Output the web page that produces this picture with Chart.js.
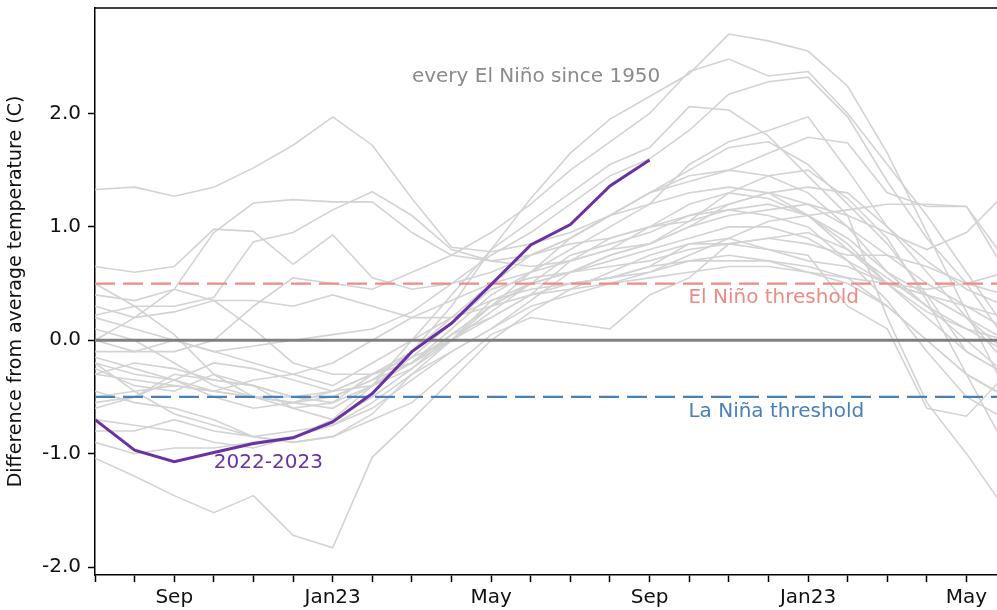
<!DOCTYPE html>
<html>
<head>
<meta charset="utf-8">
<script src="https://cdn.jsdelivr.net/npm/chart.js@4"></script>
<style>
  html, body { margin: 0; padding: 0; background: #fff; }
  #wrap { width: 997px; height: 610px; }
</style>
</head>
<body>
<div id="wrap"><canvas id="ninoChart" width="997" height="610"></canvas></div>
<script>
// months from Jul of the year before the event (index 0) onward
const tickIdx = [2, 6, 10, 14, 18, 22];
const tickNames = ['Sep', 'Jan23', 'May', 'Sep', 'Jan23', 'May'];
const yTicks = [-2, -1, 0, 1, 2];

// 2022-2023 (Jul 2022 .. Sep 2023)
const run2022 = [-0.70, -0.97, -1.07, -0.99, -0.91, -0.86, -0.72, -0.47, -0.10, 0.15, 0.49, 0.84, 1.02, 1.36, 1.59];

// every El Nino since 1950, Jul (year before) .. Jun (year after)
const g1  = [-0.30, -0.20, -0.25, -0.35, -0.40, -0.50, -0.50, -0.35, -0.10, 0.30, 0.80, 1.25, 1.65, 1.95, 2.15, 2.35, 2.70, 2.64, 2.55, 2.24, 1.65, 0.95, 0.25, -0.45];
const g2  = [0.00, -0.10, -0.10, 0.00, 0.30, 0.55, 0.50, 0.45, 0.60, 0.75, 0.95, 1.20, 1.50, 1.75, 2.00, 2.37, 2.48, 2.33, 2.37, 2.00, 1.55, 1.10, 0.60, 0.10];
const g3  = [-0.10, -0.10, 0.00, -0.10, -0.05, 0.00, 0.05, 0.10, 0.25, 0.50, 0.75, 0.95, 1.20, 1.45, 1.60, 1.85, 2.17, 2.28, 2.32, 1.97, 1.40, 0.90, 0.50, 0.00];
const g4  = [-0.70, -0.75, -0.80, -0.90, -0.95, -0.85, -0.70, -0.40, 0.00, 0.40, 0.80, 1.05, 1.30, 1.55, 1.70, 2.06, 2.03, 1.80, 1.45, 1.10, 0.20, -0.55, -1.00, -1.50];
const g5  = [0.20, 0.10, 0.00, -0.10, -0.20, -0.30, -0.20, 0.00, 0.20, 0.35, 0.50, 0.60, 0.80, 1.00, 1.20, 1.55, 1.75, 1.85, 1.97, 1.50, 1.00, 0.60, 0.20, -0.20];
const g6  = [-0.50, -0.45, -0.40, -0.45, -0.50, -0.50, -0.45, -0.30, -0.10, 0.20, 0.50, 0.75, 0.90, 1.10, 1.30, 1.40, 1.50, 1.65, 1.79, 1.74, 1.30, 1.18, 1.18, 0.70];
const g7  = [1.33, 1.35, 1.27, 1.35, 1.52, 1.72, 1.97, 1.72, 1.25, 0.82, 0.78, 0.85, 0.95, 1.10, 1.20, 1.30, 1.35, 1.30, 1.20, 1.00, 0.75, 0.50, 0.30, 0.20];
const g8  = [0.65, 0.60, 0.65, 0.98, 0.96, 0.67, 0.93, 0.55, 0.45, 0.50, 0.60, 0.75, 0.90, 1.10, 1.30, 1.45, 1.50, 1.45, 1.30, 1.00, 0.60, 0.30, 0.10, -0.10];
const g9  = [0.22, 0.30, 0.30, 0.38, 0.87, 0.95, 1.15, 1.31, 1.10, 0.80, 0.70, 0.75, 0.85, 0.90, 1.00, 1.10, 1.15, 1.20, 1.10, 0.90, 0.60, 0.40, 0.20, 0.00];
const g10 = [0.00, 0.20, 0.45, 0.95, 1.21, 1.24, 1.22, 1.22, 0.95, 0.75, 0.70, 0.65, 0.70, 0.80, 1.00, 1.20, 1.30, 1.25, 1.10, 0.80, 0.50, 0.20, -0.10, -0.30];
const g11 = [-0.25, -0.40, -0.45, -0.30, -0.40, -0.60, -0.70, -0.50, -0.25, 0.00, 0.30, 0.50, 0.60, 0.70, 0.80, 0.90, 1.00, 1.00, 0.90, 0.70, 0.50, 0.40, 0.20, -0.10];
const g12 = [-0.45, -0.55, -0.60, -0.70, -0.85, -0.90, -0.85, -0.65, -0.30, 0.00, 0.35, 0.50, 0.50, 0.55, 0.65, 0.85, 0.90, 0.80, 0.75, 0.30, 0.10, -0.60, -0.67, -0.30];
const g13 = [-0.80, -0.80, -0.70, -0.80, -0.85, -0.80, -0.75, -0.55, -0.30, -0.10, 0.10, 0.30, 0.40, 0.50, 0.60, 0.70, 0.75, 0.70, 0.60, 0.50, 0.30, 0.00, -0.30, -0.50];
const g14 = [0.40, 0.35, 0.45, 0.35, 0.10, -0.20, -0.30, -0.30, -0.20, 0.10, 0.40, 0.60, 0.70, 0.80, 0.85, 1.00, 1.20, 1.30, 1.35, 1.30, 1.00, 0.70, 0.45, 0.30];
const g15 = [0.10, 0.00, -0.20, -0.40, -0.50, -0.60, -0.55, -0.40, -0.15, 0.15, 0.45, 0.55, 0.60, 0.65, 0.70, 0.80, 0.85, 0.90, 0.95, 0.80, 0.55, 0.30, 0.00, -0.30];
const g16 = [-0.55, -0.50, -0.35, -0.20, -0.25, -0.35, -0.45, -0.40, -0.25, 0.05, 0.30, 0.40, 0.45, 0.50, 0.55, 0.60, 0.65, 0.65, 0.60, 0.55, 0.50, 0.45, 0.50, 0.60];
const g17 = [-0.15, -0.25, -0.35, -0.50, -0.60, -0.55, -0.50, -0.35, -0.20, 0.00, 0.20, 0.40, 0.50, 0.55, 0.60, 0.75, 0.90, 1.05, 1.10, 1.15, 1.20, 1.20, 1.18, 0.60];
const g18 = [-0.30, -0.35, -0.40, -0.45, -0.35, -0.30, -0.40, -0.20, 0.00, 0.20, 0.30, 0.50, 0.60, 0.75, 0.85, 1.00, 1.10, 1.15, 1.20, 1.10, 0.95, 0.80, 0.95, 1.30];
const g19 = [-0.90, -1.00, -0.95, -0.95, -0.90, -0.85, -0.75, -0.60, -0.35, -0.10, 0.10, 0.35, 0.60, 0.75, 0.85, 1.05, 1.30, 1.45, 1.50, 1.25, 0.90, 0.35, -0.30, -0.95];
const g20 = [-1.04, -1.20, -1.37, -1.52, -1.37, -1.72, -1.83, -1.03, -0.70, -0.35, 0.00, 0.25, 0.45, 0.60, 0.75, 0.85, 0.85, 0.80, 0.70, 0.65, 0.50, 0.40, 0.30, 0.10];
const g21 = [0.50, 0.30, 0.05, -0.30, -0.50, -0.55, -0.60, -0.40, -0.20, 0.05, 0.30, 0.60, 0.90, 1.10, 1.30, 1.50, 1.70, 1.75, 1.55, 1.20, 0.85, 0.40, -0.10, -0.30];
const g22 = [-0.20, -0.30, -0.35, -0.45, -0.50, -0.55, -0.45, -0.30, -0.20, 0.05, 0.20, 0.40, 0.70, 0.90, 1.00, 1.05, 1.15, 1.10, 1.00, 0.70, 0.35, -0.10, -0.50, -0.70];
const g23 = [0.30, 0.20, 0.25, 0.35, 0.35, 0.30, 0.40, 0.30, 0.20, 0.20, 0.35, 0.45, 0.50, 0.55, 0.65, 0.70, 0.70, 0.70, 0.65, 0.55, 0.30, 0.00, -0.30, -0.50];
const g24 = [-0.20, -0.45, -0.65, -0.75, -0.85, -0.90, -0.85, -0.70, -0.55, -0.25, 0.05, 0.20, 0.15, 0.10, 0.40, 0.55, 0.85, 0.90, 0.85, 0.75, 0.75, 0.65, 0.50, 0.40];
const g25 = [-0.60, -0.50, -0.30, -0.35, -0.40, -0.50, -0.55, -0.30, -0.15, 0.00, 0.25, 0.50, 0.75, 0.85, 0.95, 1.10, 1.20, 1.30, 1.10, 0.85, 0.50, 0.25, 0.10, 0.00];
const grayRuns = [g1, g2, g3, g4, g5, g6, g7, g8, g9, g10, g11, g12, g13, g14, g15, g16, g17, g18, g19, g20, g21, g22, g23, g24, g25];

const elNinoThreshold = 0.5;
const laNinaThreshold = -0.5;
const xMax = 22.77;

const font = "'DejaVu Sans', sans-serif";

function toPoints(arr) {
    return arr.map((v, i) => ({ x: i, y: v }));
}
function flatLine(v) {
    return [{ x: 0, y: v }, { x: xMax, y: v }];
}

const datasets = [];
grayRuns.forEach(run => {
    datasets.push({ data: toPoints(run), borderColor: '#d3d3d3', borderWidth: 1.6, order: 5 });
});
datasets.push({ data: flatLine(0), borderColor: '#808080', borderWidth: 3, order: 3 });
datasets.push({ data: flatLine(elNinoThreshold), borderColor: '#f08a84', borderWidth: 2.2, borderDash: [20, 8], order: 2 });
datasets.push({ data: flatLine(laNinaThreshold), borderColor: '#4a80b8', borderWidth: 2.2, borderDash: [20, 8], order: 2 });
datasets.push({ data: toPoints(run2022), borderColor: '#6a32a0', borderWidth: 3, order: 1 });

// texts placed in data units
const notes = [
    { text: 'every El Niño since 1950', x: 8.0, y: 2.32, color: '#8a8a8a' },
    { text: 'El Niño threshold', x: 14.98, y: 0.375, color: '#ee8a86' },
    { text: 'La Niña threshold', x: 14.98, y: -0.63, color: '#4a80b8' },
    { text: '2022-2023', x: 3.0, y: -1.08, color: '#6a32a0' }
];

const notePlugin = {
    id: 'notes',
    afterDatasetsDraw(chart) {
        const ctx = chart.ctx;
        const xs = chart.scales.x, ys = chart.scales.y;
        const area = chart.chartArea;
        ctx.save();
        ctx.font = '20px ' + font;
        ctx.textBaseline = 'middle';
        ctx.textAlign = 'left';
        notes.forEach(n => {
            ctx.fillStyle = n.color;
            ctx.fillText(n.text, xs.getPixelForValue(n.x), ys.getPixelForValue(n.y));
        });
        // top spine
        ctx.strokeStyle = '#000';
        ctx.lineWidth = 1.5;
        ctx.beginPath();
        ctx.moveTo(area.left, area.top);
        ctx.lineTo(area.right, area.top);
        ctx.stroke();
        ctx.restore();
    }
};

new Chart(document.getElementById('ninoChart'), {
    type: 'line',
    data: { datasets: datasets },
    options: {
        responsive: false,
        animation: false,
        elements: { point: { radius: 0 }, line: { tension: 0, borderCapStyle: 'butt' } },
        layout: { padding: { top: 8, right: 0, left: 0, bottom: 0 } },
        plugins: { legend: { display: false }, tooltip: { enabled: false } },
        scales: {
            x: {
                type: 'linear',
                min: 0,
                max: xMax,
                afterBuildTicks: axis => { axis.ticks = Array.from({ length: 23 }, (_, i) => ({ value: i })); },
                afterFit: axis => { axis.height = 35; axis.paddingLeft = 0; axis.paddingRight = 0; },
                grid: { drawOnChartArea: false, drawTicks: true, tickLength: 7, tickColor: '#000', tickWidth: 1.5 },
                border: { color: '#000', width: 1.5 },
                ticks: {
                    autoSkip: false,
                    maxRotation: 0,
                    padding: 4,
                    color: '#111',
                    font: { family: font, size: 20 },
                    callback: v => {
                        const k = tickIdx.indexOf(v);
                        return k >= 0 ? tickNames[k] : '';
                    }
                }
            },
            y: {
                type: 'linear',
                min: -2.07,
                max: 2.93,
                afterBuildTicks: axis => { axis.ticks = yTicks.map(v => ({ value: v })); },
                afterFit: axis => { axis.width = 95; axis.paddingTop = 0; axis.paddingBottom = 0; },
                grid: { drawOnChartArea: false, drawTicks: true, tickLength: 7, tickColor: '#000', tickWidth: 1.5 },
                border: { color: '#000', width: 1.5 },
                ticks: {
                    padding: 7,
                    color: '#111',
                    font: { family: font, size: 20 },
                    callback: v => v.toFixed(1)
                },
                title: {
                    display: true,
                    text: 'Difference from average temperature (C)',
                    color: '#111',
                    font: { family: font, size: 19 },
                    padding: { top: 5, bottom: 0 }
                }
            }
        }
    },
    plugins: [notePlugin]
});
</script>
</body>
</html>
